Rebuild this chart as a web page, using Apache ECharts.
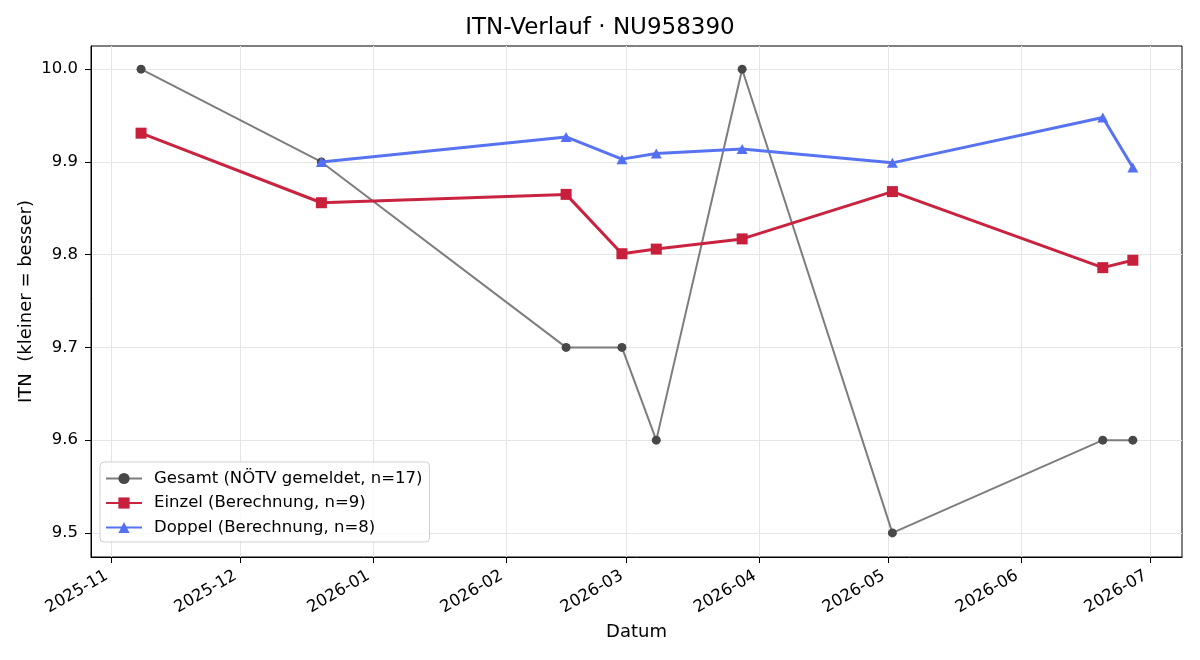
<!DOCTYPE html>
<html>
<head>
<meta charset="utf-8">
<script src="https://cdn.jsdelivr.net/npm/echarts@6/dist/echarts.min.js"></script>
<style>
  html, body { margin: 0; padding: 0; background: #fff; }
  #chart { width: 1200px; height: 660px; }
</style>
</head>
<body>
<div id="chart"></div>
<script>
// Werte
const gesamtDates = ['2025-11-08', '2025-12-20', '2026-02-15', '2026-02-28', '2026-03-08', '2026-03-28', '2026-05-02', '2026-06-20', '2026-06-27']
const gesamtValues = [10.0, 9.9, 9.7, 9.7, 9.6, 10.0, 9.5, 9.6, 9.6]
const einzelDates = ['2025-11-08', '2025-12-20', '2026-02-15', '2026-02-28', '2026-03-08', '2026-03-28', '2026-05-02', '2026-06-20', '2026-06-27']
const einzelValues = [9.931, 9.856, 9.865, 9.801, 9.806, 9.817, 9.868, 9.786, 9.794]
const doppelDates = ['2025-12-20', '2026-02-15', '2026-02-28', '2026-03-08', '2026-03-28', '2026-05-02', '2026-06-20', '2026-06-27']
const doppelValues = [9.900, 9.927, 9.903, 9.909, 9.914, 9.899, 9.948, 9.894]
const monthTicks = ['2025-11-01', '2025-12-01', '2026-01-01', '2026-02-01', '2026-03-01', '2026-04-01', '2026-05-01', '2026-06-01', '2026-07-01']
const yTicks = [9.5, 9.6, 9.7, 9.8, 9.9, 10.0]

const toTime = s => {
  const p = s.split('-').map(Number)
  return new Date(p[0], p[1] - 1, p[2]).getTime()
}
const pairs = (d, v) => d.map((x, i) => [toTime(x), v[i]])
const DAY = 24 * 3600 * 1000
const monthTimes = monthTicks.map(toTime)
const pad2 = n => (n < 10 ? '0' : '') + n
const fmtMonth = v => {
  const d = new Date(v)
  return d.getFullYear() + '-' + pad2(d.getMonth() + 1)
}

const font = 'DejaVu Sans'
const chart = echarts.init(document.getElementById('chart'))
chart.setOption({
  animation: false,
  textStyle: { fontFamily: font },
  title: {
    text: 'ITN-Verlauf · NU958390',
    left: 'center',
    top: 12,
    textStyle: { fontFamily: font, fontSize: 23, fontWeight: 'normal', color: '#000' }
  },
  grid: {
    left: 91, right: 18, top: 46, bottom: 103,
    show: true, borderColor: '#000', borderWidth: 1
  },
  legend: {
    orient: 'vertical',
    left: 100,
    top: 462,
    itemWidth: 36,
    itemHeight: 14,
    itemGap: 7.5,
    padding: [8, 7, 6, 5],
    backgroundColor: 'rgba(255,255,255,0.8)',
    borderColor: '#cfcfcf',
    borderWidth: 1,
    borderRadius: 4,
    textStyle: { fontFamily: font, fontSize: 16.5, color: '#000', padding: [0, 0, 0, 7] },
    data: [
      'Gesamt (NÖTV gemeldet, n=17)',
      'Einzel (Berechnung, n=9)',
      'Doppel (Berechnung, n=8)'
    ]
  },
  xAxis: {
    type: 'value',
    min: toTime('2025-11-01') - 4.66 * DAY,
    max: toTime('2026-07-01') + 7.45 * DAY,
    name: 'Datum',
    nameLocation: 'middle',
    nameGap: 66,
    nameMoveOverlap: false,
    nameTextStyle: { fontFamily: font, fontSize: 18, color: '#000' },
    axisLine: { show: true, lineStyle: { color: '#000', width: 1 } },
    axisTick: { show: true, length: 6, lineStyle: { color: '#000' }, customValues: monthTimes },
    axisLabel: {
      customValues: monthTimes,
      rotate: 30,
      margin: 15,
      padding: [0, 5, 0, 0],
      fontFamily: font,
      fontSize: 16.5,
      color: '#000',
      formatter: fmtMonth
    },
    splitLine: { show: true, lineStyle: { color: '#e5e5e5', width: 1 } }
  },
  yAxis: {
    type: 'value',
    min: 9.474,
    max: 10.025,
    name: 'ITN  (kleiner = besser)',
    nameLocation: 'middle',
    nameGap: 56,
    nameMoveOverlap: false,
    nameTextStyle: { fontFamily: font, fontSize: 18, color: '#000' },
    axisLine: { show: true, lineStyle: { color: '#000', width: 1 } },
    axisTick: { show: true, length: 6, lineStyle: { color: '#000' }, customValues: yTicks },
    axisLabel: {
      customValues: yTicks,
      margin: 13,
      fontFamily: font,
      fontSize: 16.5,
      color: '#000',
      formatter: v => v.toFixed(1)
    },
    splitLine: { show: true, lineStyle: { color: '#e5e5e5', width: 1 } }
  },
  series: [
    {
      name: 'Gesamt (NÖTV gemeldet, n=17)',
      type: 'line',
      data: pairs(gesamtDates, gesamtValues),
      symbol: 'circle',
      symbolSize: 9,
      lineStyle: { color: '#7d7d7d', width: 2 },
      itemStyle: { color: '#484848' },
      z: 2
    },
    {
      name: 'Einzel (Berechnung, n=9)',
      type: 'line',
      data: pairs(einzelDates, einzelValues),
      symbol: 'rect',
      symbolSize: 11,
      lineStyle: { color: '#c92340', width: 3 },
      itemStyle: { color: '#c81f3d' },
      z: 3
    },
    {
      name: 'Doppel (Berechnung, n=8)',
      type: 'line',
      data: pairs(doppelDates, doppelValues),
      symbol: 'triangle',
      symbolSize: [11, 10],
      lineStyle: { color: '#5873f2', width: 3 },
      itemStyle: { color: '#5470f2' },
      z: 4
    }
  ]
})
</script>
</body>
</html>
